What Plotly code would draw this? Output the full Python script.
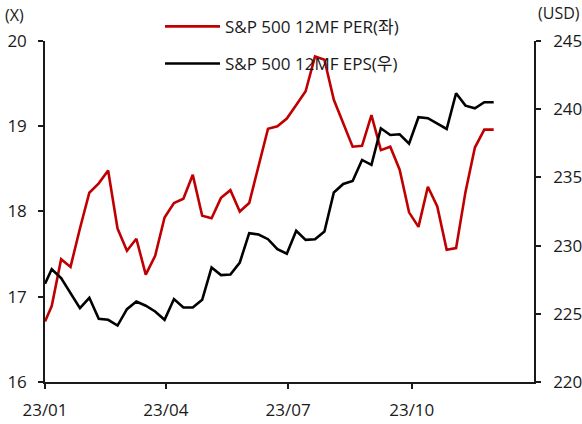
import plotly.graph_objects as go

dates = ["2023-01-01"] + [
    "2023-01-06", "2023-01-13", "2023-01-20", "2023-01-27",
    "2023-02-03", "2023-02-10", "2023-02-17", "2023-02-24",
    "2023-03-03", "2023-03-10", "2023-03-17", "2023-03-24", "2023-03-31",
    "2023-04-07", "2023-04-14", "2023-04-21", "2023-04-28",
    "2023-05-05", "2023-05-12", "2023-05-19", "2023-05-26",
    "2023-06-02", "2023-06-09", "2023-06-16", "2023-06-23", "2023-06-30",
    "2023-07-07", "2023-07-14", "2023-07-21", "2023-07-28",
    "2023-08-04", "2023-08-11", "2023-08-18", "2023-08-25",
    "2023-09-01", "2023-09-08", "2023-09-15", "2023-09-22", "2023-09-29",
    "2023-10-06", "2023-10-13", "2023-10-20", "2023-10-27",
    "2023-11-03", "2023-11-10", "2023-11-17", "2023-11-24",
    "2023-12-01",
]

per = [16.71, 16.89, 17.44, 17.35, 17.80, 18.22, 18.33, 18.48, 17.80, 17.54,
       17.68, 17.26, 17.48, 17.93, 18.10, 18.15, 18.43, 17.95, 17.92, 18.16,
       18.25, 18.00, 18.10, 18.53, 18.97, 19.00, 19.09, 19.25, 19.41, 19.82,
       19.78, 19.31, 19.04, 18.76, 18.77, 19.13, 18.72, 18.76, 18.49, 17.99,
       17.82, 18.29, 18.06, 17.55, 17.57, 18.23, 18.75, 18.96, 18.96]

eps = [227.2, 228.27, 227.62, 226.5, 225.42, 226.17, 224.63, 224.56, 224.14, 225.34,
       225.9, 225.59, 225.17, 224.56, 226.08, 225.46, 225.46, 226.03, 228.39, 227.84,
       227.88, 228.76, 230.91, 230.81, 230.47, 229.74, 229.4, 231.08, 230.42, 230.47,
       231.03, 233.89, 234.52, 234.74, 236.28, 235.92, 238.6, 238.11, 238.16, 237.48,
       239.41, 239.34, 238.92, 238.55, 241.17, 240.26, 240.07, 240.51, 240.51]

tick_vals = ["2023-01-01", "2023-04-01", "2023-07-01", "2023-10-01"]
tick_text = ["23/01", "23/04", "23/07", "23/10"]

FONT = "Open Sans, Noto Sans CJK KR, sans-serif"
FS = 17
TXT = "#1a1a1a"
AX = "#1a1a1a"

fig = go.Figure()
fig.add_trace(go.Scatter(x=dates, y=per, mode="lines", name="S&P 500 12MF PER(좌)",
                         line=dict(color="#C00000", width=2.6), legendgroup="a"))
fig.add_trace(go.Scatter(x=dates, y=eps, mode="lines", name="S&P 500 12MF EPS(우)",
                         line=dict(color="#000000", width=2.6), yaxis="y2", legendgroup="b"))

axis_common = dict(showgrid=False, zeroline=False, showline=True, linecolor=AX,
                   linewidth=1.5, ticks="outside", ticklen=5, tickcolor=AX,
                   tickwidth=1.5, tickfont=dict(size=FS, color=TXT), automargin=False)

fig.update_layout(
    width=582, height=424,
    margin=dict(l=45, r=48, t=0, b=42, autoexpand=False),
    paper_bgcolor="white", plot_bgcolor="white",
    font=dict(family=FONT, size=FS, color=TXT),
    showlegend=True,
    legend=dict(x=0.2352, y=0.977, xanchor="left", yanchor="top",
                bgcolor="rgba(0,0,0,0)", traceorder="grouped", tracegroupgap=12,
                itemwidth=55, font=dict(family=FONT, size=FS, color=TXT)),
    xaxis=dict(type="date", range=["2023-01-01", "2023-12-31"],
               tickvals=tick_vals, ticktext=tick_text, ticklabelstandoff=7,
               **axis_common),
    yaxis=dict(range=[16, 20], dtick=1, domain=[0, 0.8927], ticklabelstandoff=8,
               **axis_common),
    yaxis2=dict(range=[220, 245], dtick=5, overlaying="y", side="right",
                ticklabelstandoff=9, **axis_common),
    annotations=[
        dict(text="(X)", xref="paper", yref="paper", x=-0.086, y=0.9607,
             xanchor="left", yanchor="middle", showarrow=False,
             font=dict(size=16, color=TXT)),
        dict(text="(USD)", xref="paper", yref="paper", x=1.098, y=0.9647,
             xanchor="right", yanchor="middle", showarrow=False,
             font=dict(size=16, color=TXT)),
    ],
)

fig.write_html("out.html", config={"displayModeBar": False},
               post_script="document.body.style.margin='0';")
